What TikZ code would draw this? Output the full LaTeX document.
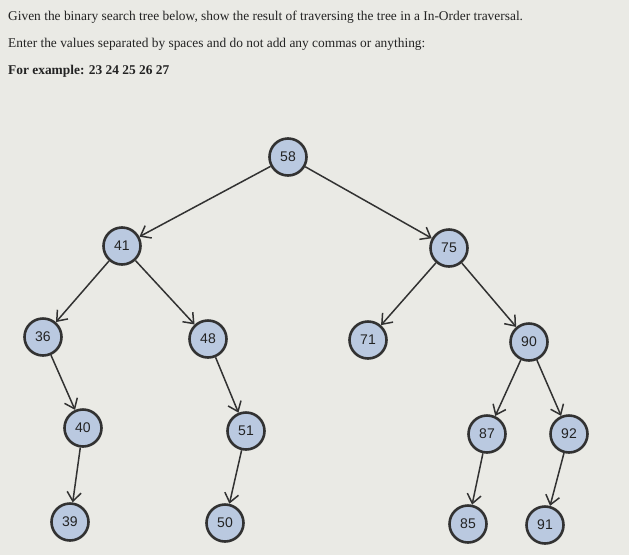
\documentclass[tikz,border=0pt]{standalone}
\usepackage{fontspec}
\setmainfont{Liberation Serif}
\newfontfamily\numfont{Liberation Sans}
\usetikzlibrary{arrows.meta}
\definecolor{bgc}{RGB}{234,234,229}
\definecolor{nodefill}{RGB}{186,201,224}
\definecolor{edgec}{RGB}{50,50,50}
\definecolor{txtc}{RGB}{35,35,35}
\begin{document}
\begin{tikzpicture}[x=1pt,y=-1pt,
  bst/.style={circle,draw=edgec,line width=2.6pt,fill=nodefill,minimum size=37pt,inner sep=0pt,font=\numfont\fontsize{14}{16}\selectfont,text=txtc},
  link/.style={draw=edgec,line width=1.5pt,-{Straight Barb[length=9pt,width=14pt,line width=1.5pt]}},
  qtext/.style={anchor=west,text=txtc,font=\fontsize{13.4}{15}\selectfont,inner sep=0pt}]
\fill[bgc] (0,0) rectangle (629,555);
\useasboundingbox (0,0) rectangle (629,555);
\node[qtext] (t1) at (8,17) {Given the binary search tree below, show the result of traversing the tree in a In-Order traversal.};
\node[qtext] (t2) at (8,44) {Enter the values separated by spaces and do not add any commas or anything:};
\node[qtext,font=\bfseries\fontsize{13.4}{15}\selectfont] (t3) at (8,71) {For example: 23 24 25 26 27};
\node[bst] (n58) at (288,157) {58};
\node[bst] (n41) at (122,246) {41};
\node[bst] (n75) at (449,248) {75};
\node[bst] (n36) at (43,337) {36};
\node[bst] (n48) at (208,339) {48};
\node[bst] (n71) at (368,340) {71};
\node[bst] (n90) at (529,342) {90};
\node[bst] (n40) at (83,428) {40};
\node[bst] (n51) at (246,431) {51};
\node[bst] (n87) at (487,434) {87};
\node[bst] (n92) at (569,434) {92};
\node[bst] (n39) at (70,522) {39};
\node[bst] (n50) at (225,523) {50};
\node[bst] (n85) at (468,524) {85};
\node[bst] (n91) at (545,525) {91};
\draw[link] (n58) -- (n41);
\draw[link] (n58) -- (n75);
\draw[link] (n41) -- (n36);
\draw[link] (n41) -- (n48);
\draw[link] (n75) -- (n71);
\draw[link] (n75) -- (n90);
\draw[link] (n36) -- (n40);
\draw[link] (n48) -- (n51);
\draw[link] (n90) -- (n87);
\draw[link] (n90) -- (n92);
\draw[link] (n40) -- (n39);
\draw[link] (n51) -- (n50);
\draw[link] (n87) -- (n85);
\draw[link] (n92) -- (n91);
\end{tikzpicture}
\end{document}
